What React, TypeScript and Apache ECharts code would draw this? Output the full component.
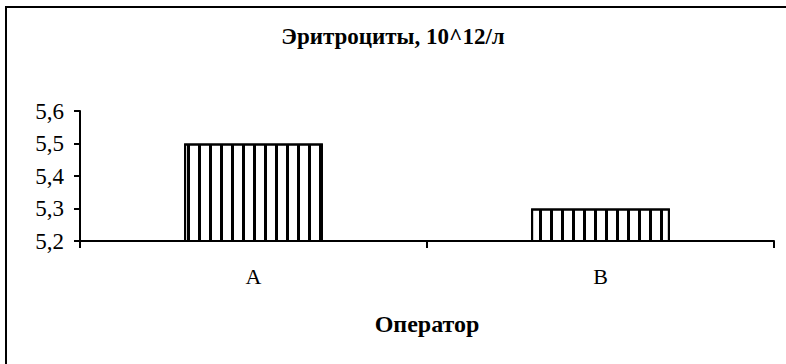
import React, { useEffect, useRef } from "react";
import * as echarts from "echarts";

const categories = ["A", "B"];
const values = [5.5, 5.3];
const yMin = 5.2;
const yMax = 5.6;
const yStep = 0.1;
const titleText = "Эритроциты, 10^12/л";
const xAxisName = "Оператор";

const FONT = "Liberation Serif";

export default function App() {
  const ref = useRef<HTMLDivElement>(null);

  useEffect(() => {
    document.body.style.margin = "0";
    if (!ref.current) return;
    const chart = echarts.init(ref.current, null, { renderer: "svg" });
    chart.setOption({
      animation: false,
      backgroundColor: "#fff",
      title: {
        text: titleText,
        left: "center",
        top: 20,
        textStyle: {
          fontFamily: FONT,
          fontSize: 23,
          fontWeight: "bold",
          color: "#000",
        },
      },
      graphic: [
        {
          type: "rect",
          shape: { x: 6, y: 7, width: 820, height: 420 },
          style: { fill: "none", stroke: "#000", lineWidth: 2 },
          silent: true,
        },
      ],
      grid: { left: 80, right: 12, top: 111, bottom: 123 },
      xAxis: {
        type: "category",
        data: categories,
        name: xAxisName,
        nameLocation: "middle",
        nameGap: 71,
        nameTextStyle: {
          fontFamily: FONT,
          fontSize: 24,
          fontWeight: "bold",
          color: "#000",
        },
        axisLine: { lineStyle: { color: "#000", width: 2 } },
        axisTick: { show: true, length: 7, lineStyle: { color: "#000", width: 2 } },
        axisLabel: {
          fontFamily: FONT,
          fontSize: 22,
          color: "#000",
          margin: 24,
        },
        splitLine: { show: false },
      },
      yAxis: {
        type: "value",
        min: yMin,
        max: yMax,
        interval: yStep,
        axisLine: { show: true, lineStyle: { color: "#000", width: 2 } },
        axisTick: { show: true, length: 6, lineStyle: { color: "#000", width: 2 } },
        axisLabel: {
          fontFamily: FONT,
          fontSize: 23,
          color: "#000",
          margin: 16,
          formatter: (v: number) => v.toFixed(1).replace(".", ","),
        },
        splitLine: { show: false },
      },
      series: [
        {
          type: "bar",
          data: values,
          barWidth: "40%",
          itemStyle: {
            color: "#fff",
            borderColor: "#000",
            borderWidth: 2,
            decal: {
              symbol: "rect",
              symbolSize: 1,
              color: "#000",
              dashArrayX: [3, 8],
              dashArrayY: [10, 0],
              rotation: 0,
            },
          },
        },
      ],
    });
    return () => chart.dispose();
  }, []);

  return <div ref={ref} style={{ width: 786, height: 364 }} />;
}
